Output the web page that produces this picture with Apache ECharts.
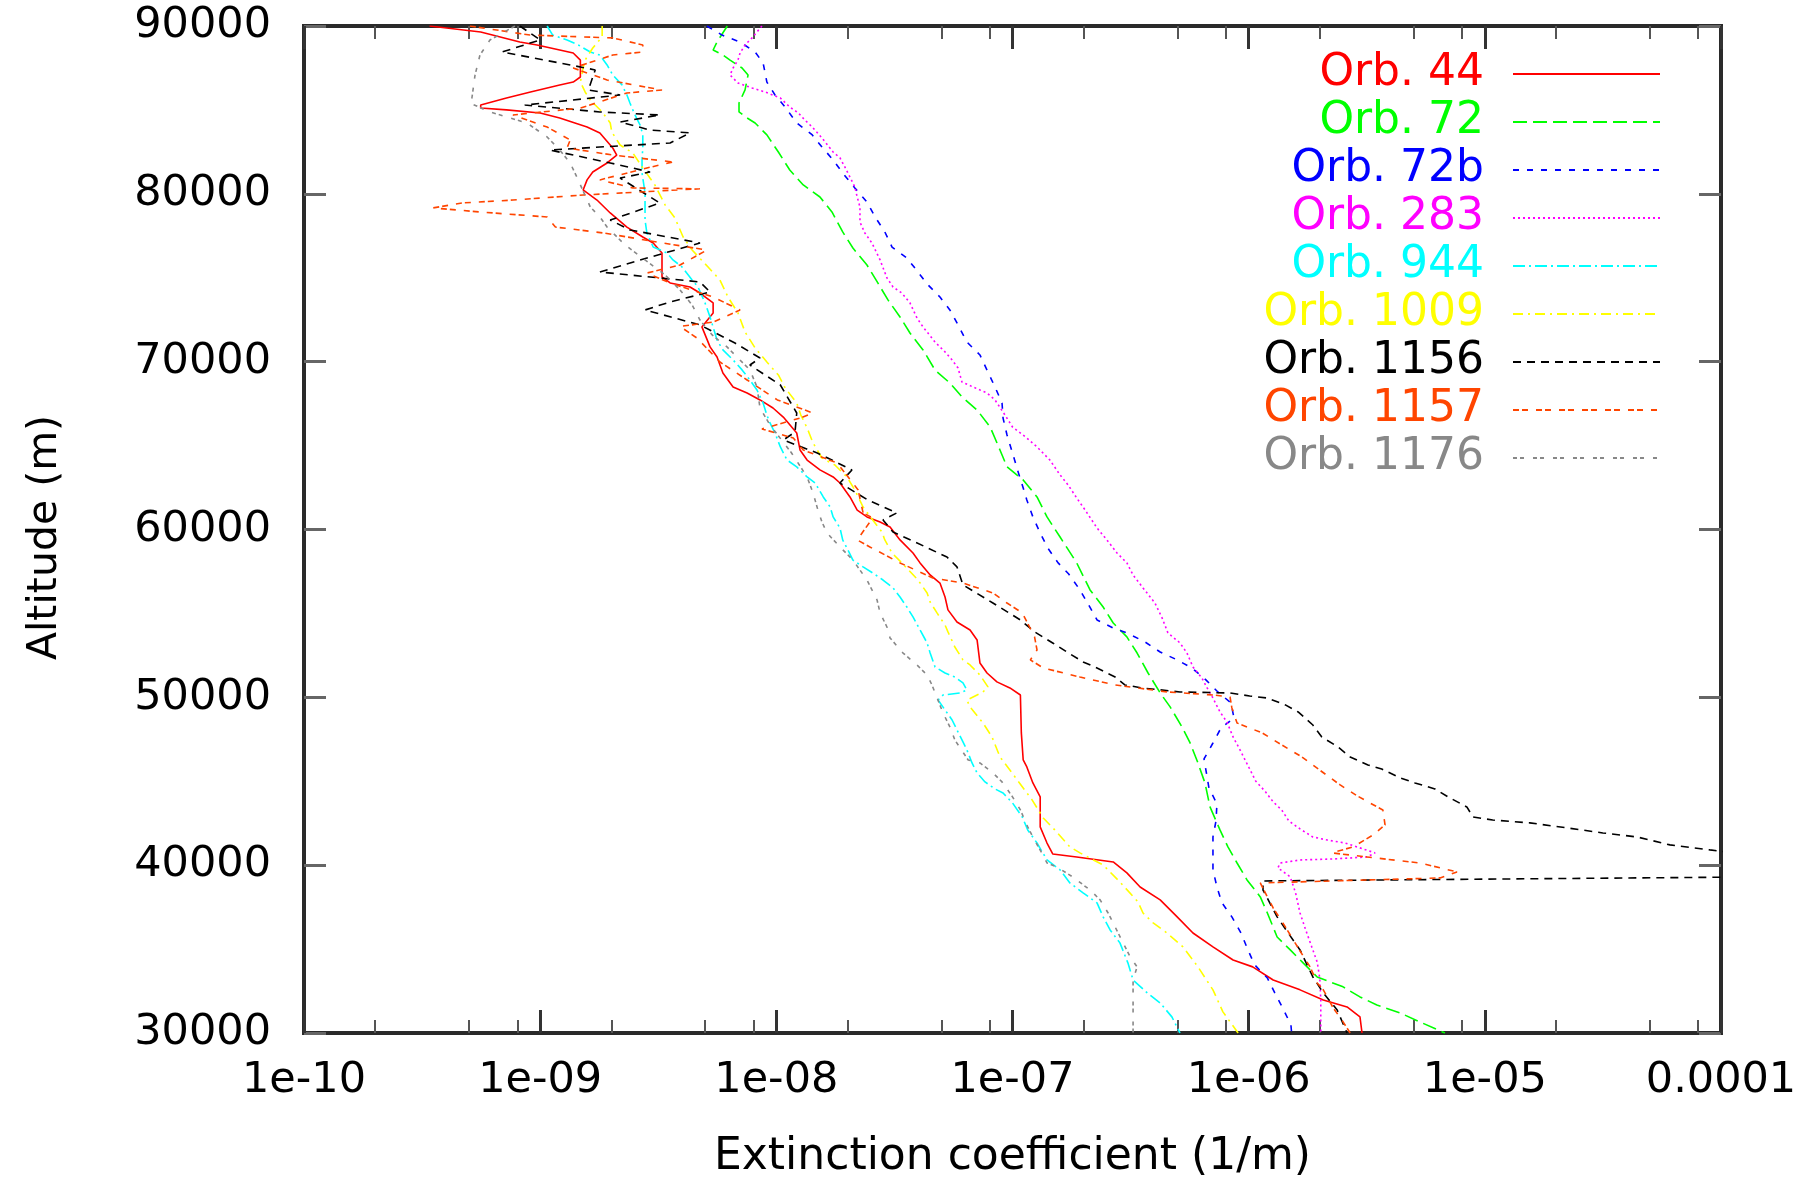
<!DOCTYPE html>
<html>
<head>
<meta charset="utf-8">
<script src="https://cdn.jsdelivr.net/npm/echarts@6/dist/echarts.min.js"></script>
<style>
html,body{margin:0;padding:0;background:#ffffff;}
#chart{width:1820px;height:1178px;}
</style>
</head>
<body>
<div id="chart"></div>
<script>
// ---------- labels / ticks ----------
const orbitNames = ['Orb. 44','Orb. 72','Orb. 72b','Orb. 283','Orb. 944','Orb. 1009','Orb. 1156','Orb. 1157','Orb. 1176'];
const orbitColors = ['#ff0000','#00ff00','#0000ff','#ff00ff','#00ffff','#ffff00','#000000','#ff4500','#888888'];
const xTickLabels = ['1e-10','1e-09','1e-08','1e-07','1e-06','1e-05','0.0001'];
const xMinorTicks = [2e-10,5e-10,8e-10,2e-9,5e-9,8e-9,2e-8,5e-8,8e-8,2e-7,5e-7,8e-7,2e-6,5e-6,8e-6,2e-5,5e-5,8e-5];
const yTicks = [30000,40000,50000,60000,70000,80000,90000];
const xTitle = 'Extinction coefficient (1/m)';
const yTitle = 'Altitude (m)';

// ---------- profiles: [extinction (1/m), altitude (m)] ----------
const orb44 = [[3.4e-10,90000],[5.6e-10,89640],[8.2e-10,89050],[9.7e-10,88870],[1.21e-9,88570],[1.38e-9,88390],[1.48e-9,87970],[1.48e-9,86960],[1.38e-9,86660],[1.21e-9,86490],[9.1e-10,86070],[7.2e-10,85710],[5.6e-10,85290],[5.6e-10,85110],[7.2e-10,85000],[1.0e-9,84820],[1.21e-9,84520],[1.58e-9,83980],[1.79e-9,83630],[2.03e-9,82730],[2.11e-9,82310],[1.92e-9,81840],[1.67e-9,81300],[1.58e-9,80830],[1.52e-9,80230],[1.74e-9,79630],[1.98e-9,78860],[2.33e-9,78020],[2.72e-9,77430],[3.01e-9,77070],[3.28e-9,76480],[3.28e-9,75050],[3.55e-9,74690],[4.31e-9,74450],[4.75e-9,74090],[5.4e-9,73500],[5.4e-9,72900],[4.84e-9,72070],[5.24e-9,70880],[5.61e-9,70280],[5.94e-9,69330],[6.56e-9,68490],[7.52e-9,68130],[8.53e-9,67720],[9.68e-9,67240],[1.07e-8,66700],[1.22e-8,65750],[1.26e-8,64740],[1.35e-8,64140],[1.53e-8,63550],[1.74e-8,63130],[1.86e-8,62770],[2.05e-8,61940],[2.2e-8,61160],[2.42e-8,60750],[2.75e-8,60450],[3.03e-8,60150],[3.34e-8,59380],[3.79e-8,58600],[4.06e-8,58010],[4.48e-8,57290],[4.93e-8,56810],[5.18e-8,55980],[5.33e-8,55210],[5.82e-8,54490],[6.61e-8,54010],[7.08e-8,53420],[7.28e-8,52050],[7.8e-8,51450],[8.59e-8,50920],[9.75e-8,50560],[1.08e-7,50140],[1.09e-7,47880],[1.11e-7,46270],[1.15e-7,45850],[1.22e-7,44900],[1.31e-7,44070],[1.31e-7,42280],[1.40e-7,41320],[1.48e-7,40670],[1.87e-7,40490],[2.67e-7,40190],[3.05e-7,39540],[3.47e-7,38700],[4.22e-7,37930],[4.98e-7,36920],[5.81e-7,35960],[7.06e-7,35130],[8.59e-7,34350],[1.04e-6,33940],[1.27e-6,33160],[1.65e-6,32570],[2.07e-6,31970],[2.61e-6,31550],[2.96e-6,30960],[3.02e-6,30000]];

const orb72 = [[6.2e-9,90000],[5.61e-9,89050],[5.4e-9,88570],[5.94e-9,88270],[6.37e-9,87970],[7.16e-9,87500],[7.59e-9,87080],[7.37e-9,86190],[6.95e-9,85410],[6.95e-9,84880],[7.52e-9,84520],[8.13e-9,84220],[9.12e-9,83510],[1.02e-8,82490],[1.14e-8,81420],[1.30e-8,80530],[1.53e-8,79810],[1.72e-8,78920],[1.91e-8,77730],[2.11e-8,76770],[2.42e-8,75760],[2.69e-8,74690],[2.97e-8,73680],[3.34e-8,72660],[3.68e-8,71710],[4.18e-8,70700],[4.70e-8,69500],[5.43e-8,68730],[6.11e-8,67900],[7.08e-8,67120],[8.04e-8,66110],[8.85e-8,64740],[9.48e-8,63730],[1.11e-7,62950],[1.27e-7,61940],[1.40e-7,60750],[1.59e-7,59550],[1.87e-7,58010],[2.13e-7,56400],[2.42e-7,55380],[2.67e-7,54430],[3.05e-7,53600],[3.37e-7,52640],[3.75e-7,51450],[4.22e-7,50260],[4.65e-7,49430],[5.22e-7,48240],[5.65e-7,47280],[6.10e-7,46090],[6.53e-7,44900],[6.86e-7,43470],[7.56e-7,42100],[8.17e-7,41090],[8.93e-7,40130],[9.84e-7,39120],[1.12e-6,38110],[1.20e-6,37150],[1.32e-6,35720],[1.50e-6,34950],[1.70e-6,34180],[1.95e-6,33340],[2.51e-6,32750],[2.96e-6,32150],[3.49e-6,31670],[4.37e-6,31200],[5.31e-6,30660],[6.78e-6,30000]];

const orb72b = [[5.08e-9,90000],[5.89e-9,89460],[7.02e-9,89050],[8.13e-9,88450],[8.79e-9,87800],[9.12e-9,86660],[9.87e-9,85890],[1.09e-8,85170],[1.22e-8,84220],[1.42e-8,83510],[1.56e-8,82790],[1.74e-8,82020],[1.91e-8,81240],[2.15e-8,80350],[2.42e-8,79510],[2.62e-8,78620],[2.88e-8,77730],[3.09e-8,76830],[3.57e-8,76180],[3.98e-8,75340],[4.39e-8,74570],[4.93e-8,73850],[5.43e-8,73080],[5.88e-8,72190],[6.41e-8,71170],[7.28e-8,70400],[7.80e-8,69500],[8.43e-8,68490],[9.03e-8,67540],[9.12e-8,66640],[9.48e-8,65630],[1.00e-7,64560],[1.05e-7,63550],[1.10e-7,62650],[1.15e-7,61760],[1.22e-7,60750],[1.31e-7,59790],[1.41e-7,58900],[1.56e-7,58010],[1.73e-7,57350],[1.93e-7,56400],[2.09e-7,55560],[2.28e-7,54610],[2.67e-7,54130],[3.05e-7,53840],[3.64e-7,53300],[4.22e-7,52700],[4.88e-7,52290],[5.75e-7,51750],[6.59e-7,51040],[7.41e-7,50320],[8.41e-7,49670],[8.67e-7,48770],[7.64e-7,48180],[7.06e-7,47280],[6.47e-7,46330],[6.79e-7,44600],[7.34e-7,43650],[7.27e-7,42630],[7.06e-7,41680],[7.06e-7,40730],[7.06e-7,39720],[7.34e-7,38700],[7.71e-7,37750],[8.49e-7,36920],[9.28e-7,35960],[9.93e-7,34950],[1.06e-6,34060],[1.20e-6,33280],[1.29e-6,32390],[1.40e-6,31430],[1.51e-6,30480],[1.52e-6,30000]];

const orb283 = [[8.69e-9,90000],[7.89e-9,89290],[7.37e-9,88870],[7.02e-9,88390],[6.88e-9,87970],[6.56e-9,87500],[6.37e-9,87080],[6.88e-9,86600],[7.89e-9,86310],[8.95e-9,86070],[1.04e-8,85710],[1.14e-8,85170],[1.24e-8,84820],[1.32e-8,84400],[1.42e-8,83980],[1.56e-8,83330],[1.74e-8,82490],[1.86e-8,82140],[1.95e-8,81600],[2.05e-8,81000],[2.15e-8,80410],[2.20e-8,79810],[2.26e-8,79220],[2.26e-8,78320],[2.37e-8,77670],[2.54e-8,77070],[2.75e-8,76060],[2.94e-8,74990],[3.12e-8,74450],[3.40e-8,74090],[3.68e-8,73500],[3.94e-8,72600],[4.18e-8,72070],[4.70e-8,71170],[5.18e-8,70580],[5.55e-8,70100],[5.88e-8,69620],[6.11e-8,68790],[6.81e-8,68490],[7.80e-8,68130],[8.43e-8,67720],[9.12e-8,67000],[1.00e-7,66110],[1.15e-7,65450],[1.27e-7,64920],[1.44e-7,64140],[1.59e-7,63250],[1.72e-7,62650],[1.87e-7,61880],[2.03e-7,61160],[2.28e-7,60090],[2.51e-7,59380],[2.77e-7,58600],[3.05e-7,58010],[3.24e-7,57290],[3.57e-7,56520],[4.01e-7,55620],[4.30e-7,54730],[4.55e-7,53840],[5.12e-7,53240],[5.48e-7,52640],[5.81e-7,51810],[6.34e-7,51150],[6.67e-7,50560],[7.06e-7,49960],[7.56e-7,49130],[8.09e-7,48530],[8.59e-7,47640],[9.19e-7,46870],[1.00e-6,45850],[1.07e-6,45020],[1.18e-6,44360],[1.27e-6,43770],[1.38e-6,43290],[1.48e-6,42630],[1.65e-6,42160],[1.87e-6,41680],[2.15e-6,41500],[2.56e-6,41320],[2.96e-6,41030],[3.43e-6,40730],[3.17e-6,40490],[2.28e-6,40370],[1.65e-6,40310],[1.36e-6,40130],[1.33e-6,39840],[1.50e-6,39300],[1.58e-6,38350],[1.65e-6,37150],[1.75e-6,36080],[1.85e-6,35130],[1.95e-6,34230],[2.00e-6,33280],[2.02e-6,31970],[2.02e-6,30000]];

const orb944 = [[1.07e-9,90000],[1.13e-9,89460],[1.30e-9,89170],[1.45e-9,88870],[1.63e-9,88450],[1.79e-9,88270],[1.92e-9,87680],[2.03e-9,87080],[2.22e-9,86490],[2.33e-9,85890],[2.40e-9,85410],[2.52e-9,84700],[2.65e-9,84100],[2.72e-9,83510],[2.72e-9,82790],[2.70e-9,82020],[2.70e-9,81240],[2.78e-9,80050],[2.78e-9,78440],[2.83e-9,77670],[3.01e-9,76830],[3.44e-9,76480],[3.65e-9,76060],[3.99e-9,75640],[4.40e-9,74870],[4.66e-9,74450],[4.99e-9,73500],[5.24e-9,72660],[5.61e-9,71290],[5.94e-9,70700],[6.56e-9,70100],[7.16e-9,69510],[7.73e-9,68910],[8.28e-9,68310],[8.79e-9,67540],[9.12e-9,66820],[9.40e-9,66350],[9.87e-9,65750],[1.04e-8,64920],[1.11e-8,64140],[1.22e-8,63730],[1.35e-8,63130],[1.46e-8,62770],[1.58e-8,61940],[1.69e-8,61340],[1.74e-8,60750],[1.86e-8,60090],[1.91e-8,59380],[1.99e-8,58900],[2.11e-8,58180],[2.33e-8,57770],[2.56e-8,57410],[2.83e-8,56990],[3.12e-8,56520],[3.34e-8,55980],[3.57e-8,55380],[3.79e-8,54790],[4.06e-8,54010],[4.35e-8,53240],[4.48e-8,52640],[4.70e-8,51810],[5.18e-8,51450],[5.70e-8,51210],[6.17e-8,50860],[6.41e-8,50440],[6.00e-8,50260],[5.08e-8,50140],[4.84e-8,49840],[5.18e-8,49250],[5.55e-8,48650],[5.82e-8,48060],[6.11e-8,47460],[6.41e-8,46870],[6.74e-8,46090],[7.08e-8,45490],[7.65e-8,44960],[8.43e-8,44540],[9.12e-8,44300],[1.00e-7,43710],[1.10e-7,42870],[1.16e-7,42100],[1.27e-7,41320],[1.40e-7,40310],[1.59e-7,39720],[1.75e-7,38940],[1.99e-7,38350],[2.28e-7,37750],[2.42e-7,36920],[2.59e-7,36140],[2.85e-7,35370],[3.08e-7,34180],[3.24e-7,33160],[3.72e-7,32390],[4.22e-7,31790],[4.73e-7,30960],[5.12e-7,30000]];

const orb1009 = [[1.83e-9,90000],[1.83e-9,89350],[1.67e-9,88690],[1.55e-9,87970],[1.52e-9,87500],[1.48e-9,86660],[1.55e-9,86070],[1.63e-9,85590],[1.83e-9,84880],[1.98e-9,84220],[2.01e-9,83690],[2.18e-9,82910],[2.47e-9,82430],[2.72e-9,81540],[3.06e-9,80530],[3.38e-9,79340],[3.72e-9,78560],[4.03e-9,77430],[4.40e-9,76650],[5.14e-9,75640],[5.77e-9,74870],[6.24e-9,73850],[6.88e-9,72900],[7.37e-9,71770],[8.13e-9,70820],[9.12e-9,69980],[1.02e-8,69210],[1.09e-8,68430],[1.22e-8,67540],[1.27e-8,66820],[1.35e-8,66050],[1.43e-8,65160],[1.56e-8,64260],[1.77e-8,63840],[1.99e-8,63130],[2.15e-8,62360],[2.33e-8,61340],[2.56e-8,60570],[2.80e-8,59850],[2.88e-8,59380],[3.09e-8,58600],[3.40e-8,58010],[3.98e-8,56990],[4.35e-8,56220],[4.48e-8,55680],[4.79e-8,55030],[5.18e-8,54310],[5.33e-8,53900],[5.70e-8,53000],[6.17e-8,52230],[6.61e-8,51930],[7.28e-8,51330],[7.87e-8,50620],[7.50e-8,50320],[6.41e-8,49840],[6.61e-8,49430],[7.50e-8,48470],[8.19e-8,47640],[8.85e-8,46450],[9.95e-8,45500],[1.11e-7,44600],[1.21e-7,43890],[1.35e-7,42810],[1.51e-7,42100],[1.75e-7,41090],[1.93e-7,40730],[2.42e-7,40010],[2.85e-7,39000],[3.40e-7,37810],[3.57e-7,37150],[3.94e-7,36560],[4.51e-7,35960],[5.27e-7,35130],[6.10e-7,33940],[7.06e-7,32570],[7.78e-7,31260],[9.02e-7,30000]];

const orb1156 = [[8.2e-10,90000],[1.0e-9,89170],[6.9e-10,88450],[1.34e-9,87680],[1.71e-9,87380],[1.60e-9,86190],[2.18e-9,85890],[8.6e-10,85290],[1.79e-9,84880],[3.21e-9,84700],[2.18e-9,84280],[2.92e-9,83800],[4.31e-9,83630],[3.55e-9,83030],[1.79e-9,82790],[1.10e-9,82610],[1.98e-9,81840],[2.92e-9,81300],[2.18e-9,80940],[3.21e-9,79450],[1.98e-9,78440],[2.40e-9,77850],[4.75e-9,77070],[2.65e-9,76060],[1.79e-9,75340],[4.75e-9,74750],[5.24e-9,74150],[3.55e-9,73560],[2.78e-9,73080],[4.75e-9,72190],[6.68e-9,71110],[8.53e-9,70220],[7.73e-9,69800],[1.04e-8,68610],[1.22e-8,66940],[1.20e-8,65810],[1.07e-8,65330],[1.49e-8,64560],[2.09e-8,63550],[1.86e-8,62770],[2.44e-8,61760],[3.24e-8,60990],[2.83e-8,60570],[3.12e-8,59850],[3.86e-8,59260],[5.28e-8,58360],[5.82e-8,57770],[6.17e-8,56700],[8.26e-8,55620],[1.08e-7,54610],[1.24e-7,53900],[1.48e-7,53240],[1.70e-7,52700],[1.99e-7,52110],[2.28e-7,51750],[2.72e-7,51210],[2.99e-7,50740],[3.53e-7,50560],[5.12e-7,50320],[8.34e-7,50260],[1.01e-6,50080],[1.20e-6,49960],[1.43e-6,49550],[1.62e-6,49130],[1.87e-6,48350],[2.04e-6,47640],[2.39e-6,47040],[2.69e-6,46450],[3.20e-6,45970],[3.66e-6,45730],[4.37e-6,45200],[5.06e-6,44900],[6.15e-6,44540],[6.98e-6,44070],[8.39e-6,43470],[8.91e-6,42870],[1.08e-5,42690],[1.55e-5,42520],[2.23e-5,42220],[3.16e-5,41920],[4.41e-5,41680],[6.08e-5,41210],[8.98e-5,40910],[1.46e-4,40550],[1.46e-4,39300],[1.15e-6,39060],[1.15e-6,38520],[1.32e-6,36920],[1.47e-6,35960],[1.65e-6,34950],[1.87e-6,33340],[2.07e-6,32390],[2.37e-6,31370],[2.61e-6,30000]];

const orb1157 = [[5.04e-10,90000],[9.06e-10,89460],[2.03e-9,89290],[2.72e-9,88870],[2.72e-9,88450],[2.03e-9,88270],[1.38e-9,87500],[1.92e-9,86780],[3.28e-9,86190],[2.33e-9,86010],[1.48e-9,85110],[7.67e-10,84700],[1.07e-9,83980],[1.34e-9,83210],[1.30e-9,82730],[2.03e-9,82310],[3.65e-9,81900],[2.83e-9,81540],[1.79e-9,80830],[2.47e-9,80350],[4.75e-9,80300],[1.52e-9,79930],[7.67e-10,79630],[4.71e-10,79460],[3.52e-10,79160],[5.56e-10,78920],[1.07e-9,78620],[1.16e-9,78020],[1.85e-9,77670],[3.12e-9,77130],[5.08e-9,76650],[3.91e-9,75760],[2.83e-9,75280],[3.55e-9,74690],[5.40e-9,73850],[7.02e-9,73080],[5.40e-9,72360],[3.91e-9,72100],[4.61e-9,71410],[5.77e-9,69980],[7.52e-9,68910],[1.01e-8,67720],[1.43e-8,66940],[1.26e-8,66640],[8.69e-9,65990],[1.18e-8,65450],[1.30e-8,64740],[1.81e-8,63960],[2.22e-8,62360],[2.33e-8,60990],[2.56e-8,60690],[2.20e-8,59380],[2.49e-8,58960],[3.34e-8,58010],[4.60e-8,57110],[6.17e-8,56810],[8.26e-8,56220],[9.48e-8,55620],[1.10e-7,55030],[1.24e-7,53600],[1.27e-7,52820],[1.19e-7,52230],[1.35e-7,51750],[1.93e-7,51210],[2.72e-7,50740],[4.51e-7,50320],[7.06e-7,50140],[8.34e-7,50020],[8.49e-7,49370],[8.93e-7,48470],[1.14e-6,47880],[1.36e-6,47220],[1.68e-6,46450],[1.97e-6,45730],[2.44e-6,44780],[2.88e-6,44130],[3.26e-6,43710],[3.70e-6,43290],[3.78e-6,42400],[3.36e-6,41800],[2.77e-6,41090],[2.25e-6,40730],[3.17e-6,40490],[5.31e-6,40130],[7.62e-6,39600],[6.46e-6,39240],[1.12e-6,38940],[1.20e-6,38110],[1.27e-6,37450],[1.43e-6,36320],[1.62e-6,35070],[1.82e-6,33940],[1.95e-6,32980],[2.07e-6,32570],[2.28e-6,31490],[2.48e-6,30780],[2.69e-6,30000]];

const orb1176 = [[7.82e-10,90000],[6.13e-10,89170],[5.56e-10,88270],[5.30e-10,87080],[5.14e-10,85710],[5.04e-10,85410],[6.13e-10,84880],[8.79e-10,84220],[1.07e-9,83390],[1.21e-9,82610],[1.34e-9,81840],[1.43e-9,81000],[1.63e-9,79220],[1.79e-9,78620],[1.92e-9,78020],[2.29e-9,76950],[2.78e-9,76060],[3.38e-9,75170],[3.91e-9,74270],[4.40e-9,73380],[4.75e-9,72480],[5.35e-9,71590],[6.18e-9,70880],[6.81e-9,70280],[7.73e-9,69510],[8.28e-9,68490],[8.53e-9,67240],[9.40e-9,66230],[1.16e-8,64560],[1.35e-8,63130],[1.43e-8,62180],[1.50e-8,61160],[1.56e-8,60450],[1.64e-8,59790],[1.86e-8,58960],[2.11e-8,58180],[2.42e-8,56990],[2.67e-8,55800],[2.75e-8,55030],[2.94e-8,54190],[3.03e-8,53540],[3.44e-8,52640],[3.94e-8,51930],[4.35e-8,51330],[4.56e-8,50740],[5.08e-8,49070],[5.43e-8,48240],[5.70e-8,47460],[6.49e-8,46270],[7.28e-8,46090],[8.19e-8,45550],[9.03e-8,44960],[1.00e-7,44070],[1.08e-7,43290],[1.16e-7,42280],[1.22e-7,41680],[1.33e-7,40730],[1.40e-7,40130],[1.54e-7,39890],[1.80e-7,39300],[2.13e-7,38520],[2.35e-7,37930],[2.54e-7,37150],[2.72e-7,36320],[2.94e-7,35370],[3.15e-7,34530],[3.37e-7,33940],[3.24e-7,33160],[3.24e-7,30000]];

const profiles = [orb44, orb72, orb72b, orb283, orb944, orb1009, orb1156, orb1157, orb1176];
const dashTypes = ['solid', [14,6], [6,8], [2,3], [12,4,2,4], [10,5,2,5], [8,6], [6,3,6,8], [4,3,4,9]];

// ---------- chart ----------
const FONT = 'DejaVu Sans';
const chart = echarts.init(document.getElementById('chart'), null, {renderer: 'canvas'});

function fmtX(v) {
  const e = Math.round(Math.log10(v));
  const idx = e + 10;
  return (idx >= 0 && idx < xTickLabels.length) ? xTickLabels[idx] : '';
}

const xBase = {
  type: 'log', logBase: 10, min: 1e-10, max: 1e-4,
  axisLine: {show: false}, splitLine: {show: false}, minorTick: {show: false}
};
const yBase = {
  type: 'value', min: 30000, max: 90000, interval: 10000,
  axisLine: {show: false}, splitLine: {show: false}
};

const option = {
  animation: false,
  backgroundColor: '#ffffff',
  grid: {
    left: 304, top: 26, width: 1417, height: 1007,
    show: true, borderColor: '#2a2a2a', borderWidth: 4, backgroundColor: 'transparent',
    containLabel: false, outerBoundsMode: 'none'
  },
  legend: {
    orient: 'vertical', align: 'right',
    right: 159, top: 50, padding: 0, itemGap: 0,
    itemWidth: 147, itemHeight: 2,
    selectedMode: false,
    itemStyle: {opacity: 0, borderWidth: 0},
    data: orbitNames.map((n, i) => ({name: n, textStyle: {color: orbitColors[i]}})),
    textStyle: {fontFamily: FONT, fontSize: 44, lineHeight: 48, padding: [0, 24, 0, 0]}
  },
  xAxis: [
    Object.assign({}, xBase, {
      position: 'bottom',
      axisTick: {show: true, inside: true, length: 23, lineStyle: {color: '#333', width: 3}},
      axisLabel: {show: true, margin: 26, formatter: fmtX, fontFamily: FONT, fontSize: 43, color: '#000'},
      name: xTitle, nameLocation: 'middle', nameGap: 103, nameMoveOverlap: false,
      nameTextStyle: {fontFamily: FONT, fontSize: 44, color: '#000'}
    }),
    Object.assign({}, xBase, {
      position: 'bottom',
      axisTick: {show: true, inside: true, length: 13, customValues: xMinorTicks, lineStyle: {color: '#555', width: 2}},
      axisLabel: {show: false}
    }),
    Object.assign({}, xBase, {
      position: 'top',
      axisTick: {show: true, inside: true, length: 23, lineStyle: {color: '#333', width: 3}},
      axisLabel: {show: false}
    }),
    Object.assign({}, xBase, {
      position: 'top',
      axisTick: {show: true, inside: true, length: 13, customValues: xMinorTicks, lineStyle: {color: '#555', width: 2}},
      axisLabel: {show: false}
    })
  ],
  yAxis: [
    Object.assign({}, yBase, {
      position: 'left',
      axisTick: {show: true, inside: true, length: 22, customValues: yTicks, lineStyle: {color: '#666', width: 3}},
      axisLabel: {show: true, margin: 33, customValues: yTicks, fontFamily: FONT, fontSize: 43, color: '#000',
                  formatter: v => String(v)},
      name: yTitle, nameLocation: 'middle', nameGap: 238, nameMoveOverlap: false,
      nameTextStyle: {fontFamily: FONT, fontSize: 41, color: '#000', padding: [0, 16, 0, 0]}
    }),
    Object.assign({}, yBase, {
      position: 'right',
      axisTick: {show: true, inside: true, length: 22, lineStyle: {color: '#666', width: 3}},
      axisLabel: {show: false}
    })
  ],
  series: profiles.map((d, i) => ({
    name: orbitNames[i],
    type: 'line',
    xAxisIndex: 0, yAxisIndex: 0,
    data: d,
    symbol: 'none', showSymbol: false,
    clip: true, silent: true,
    lineStyle: {color: orbitColors[i], width: 1.6, type: dashTypes[i]},
    itemStyle: {color: orbitColors[i]},
    z: 2 + i
  }))
};

chart.setOption(option);
</script>
</body>
</html>
